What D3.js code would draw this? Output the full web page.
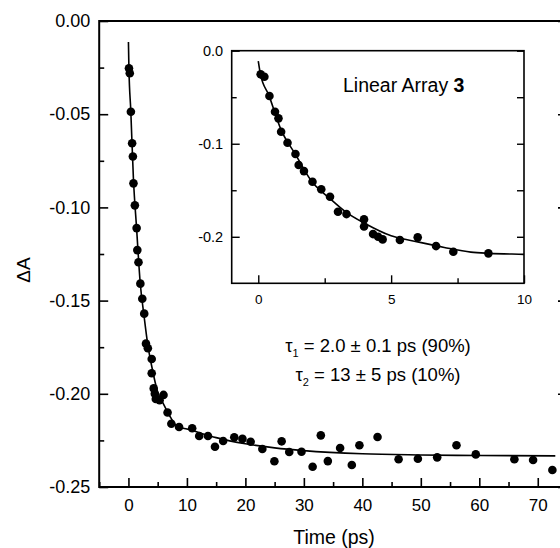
<!DOCTYPE html>
<html>
<head>
<meta charset="utf-8">
<script src="https://cdn.jsdelivr.net/npm/d3@7"></script>
<style>
  body { margin: 0; background: #fff; }
  svg { display: block; }
  text { font-family: "Liberation Sans", Arial, Helvetica, sans-serif; fill: #000; }
</style>
</head>
<body>
<div id="chart"></div>
<script>
// ---- data ----
const pointTimes = [0.09, 0.23, 0.42, 0.63, 0.76, 0.86, 1.10, 1.40, 1.52, 1.72, 2.04, 2.37, 2.70, 3.0, 3.32, 3.98, 3.98, 4.32, 4.51, 4.68, 5.33, 6.0, 6.69, 7.34, 8.66,
  10.9, 12.1, 13.6, 14.8, 16.2, 18.1, 19.5, 20.9, 22.9, 24.96, 26.2, 27.5, 29.6, 31.5, 32.9, 34.1, 36.2, 38.2, 39.5, 42.6, 46.2, 49.5, 52.8, 56.1, 59.4, 66.0, 69.2, 72.5];
const pointValues = [-0.0254, -0.0280, -0.0487, -0.0656, -0.0727, -0.0871, -0.0989, -0.1111, -0.1229, -0.1294, -0.1409, -0.1490, -0.1570, -0.1731, -0.1756, -0.1813, -0.1890, -0.1971, -0.2000, -0.2028, -0.2035, -0.2006, -0.2100, -0.2161, -0.2178,
  -0.2185, -0.2226, -0.2226, -0.2284, -0.2253, -0.2233, -0.2242, -0.2257, -0.2296, -0.2362, -0.2255, -0.2312, -0.2311, -0.2391, -0.2223, -0.2361, -0.2291, -0.2382, -0.2276, -0.2232, -0.2351, -0.2348, -0.2341, -0.2276, -0.2325, -0.2351, -0.2355, -0.2409];

const fitTimes  = [0, 0.08, 0.4, 0.85, 1.4, 2.0, 2.7, 3.3, 4.0, 5.0, 6.0, 7.0, 8.0, 8.7, 10, 12, 15, 20, 25, 30, 40, 50, 60, 73];
const fitValues = [-0.0112, -0.025, -0.048, -0.0845, -0.1115, -0.140, -0.159, -0.1735, -0.1855, -0.199, -0.2055, -0.2115, -0.2165, -0.2178, -0.2189, -0.2208, -0.2235, -0.2268, -0.2290, -0.2305, -0.2322, -0.2328, -0.2331, -0.2333];

const xMajorTicks = [0, 10, 20, 30, 40, 50, 60, 70];
const xMajorLabels = ["0", "10", "20", "30", "40", "50", "60", "70"];
const xMinorTicks = [-5, 5, 15, 25, 35, 45, 55, 65, 75];
const yMajorTicks = [0, -0.05, -0.10, -0.15, -0.20, -0.25];
const yMajorLabels = ["0.00", "-0.05", "-0.10", "-0.15", "-0.20", "-0.25"];
const yMinorTicks = [-0.025, -0.075, -0.125, -0.175, -0.225];

const insetXMajorTicks = [0, 5, 10];
const insetXMajorLabels = ["0", "5", "10"];
const insetXMinorTicks = [2.5, 7.5];
const insetYMajorTicks = [0, -0.1, -0.2];
const insetYMajorLabels = ["0.0", "-0.1", "-0.2"];
const insetYMinorTicks = [-0.05, -0.15];

const xTitle = "Time (ps)";
const yTitle = "ΔA";
const insetTitle = "Linear Array ";
const insetTitleBold = "3";
const tau1 = ["τ", "1", " = 2.0 ± 0.1 ps (90%)"];
const tau2 = ["τ", "2", " = 13 ± 5 ps (10%)"];

// ---- build ----
const W = 560, H = 548;
const points = pointTimes.map((t, i) => ({ t, v: pointValues[i] }));
const fit = fitTimes.map((t, i) => ({ t, v: fitValues[i] }));

const svg = d3.select("#chart").append("svg").attr("width", W).attr("height", H);
svg.append("rect").attr("width", W).attr("height", H).attr("fill", "#fff");

const x = d3.scaleLinear().domain([-5, 75]).range([99.2, 567]);
const y = d3.scaleLinear().domain([-0.25, 0]).range([487, 21]);

function styleAxis(g, w) {
  g.select(".domain").remove();
  g.selectAll(".tick line").attr("stroke", "#000").attr("stroke-width", w);
}

// main axes
const gxMaj = svg.append("g").attr("transform", `translate(0,${y(-0.25)})`)
  .call(d3.axisBottom(x).tickValues(xMajorTicks).tickSize(-9).tickPadding(12)
    .tickFormat((d, i) => xMajorLabels[i]));
styleAxis(gxMaj, 1.6);
gxMaj.selectAll("text").attr("font-size", 17).attr("fill", "#000");
const gxMin = svg.append("g").attr("transform", `translate(0,${y(-0.25)})`)
  .call(d3.axisBottom(x).tickValues(xMinorTicks).tickSize(-5).tickFormat(""));
styleAxis(gxMin, 1.6);

const gyMaj = svg.append("g").attr("transform", `translate(${x(-5)},0)`)
  .call(d3.axisLeft(y).tickValues(yMajorTicks).tickSize(-9).tickPadding(9)
    .tickFormat((d, i) => yMajorLabels[i]));
styleAxis(gyMaj, 1.6);
gyMaj.selectAll("text").attr("font-size", 18).attr("fill", "#000");
const gyMin = svg.append("g").attr("transform", `translate(${x(-5)},0)`)
  .call(d3.axisLeft(y).tickValues(yMinorTicks).tickSize(-5).tickFormat(""));
styleAxis(gyMin, 1.6);

const gyR = svg.append("g").attr("transform", `translate(${x(75)},0)`)
  .call(d3.axisRight(y).tickValues(yMajorTicks).tickSize(-9).tickFormat(""));
styleAxis(gyR, 1.6);

// main frame
svg.append("rect")
  .attr("x", x(-5)).attr("y", y(0))
  .attr("width", x(75) - x(-5)).attr("height", y(-0.25) - y(0))
  .attr("fill", "none").attr("stroke", "#000").attr("stroke-width", 2);

// main fit + points
const lineMain = d3.line().x(d => x(d.t)).y(d => y(d.v)).curve(d3.curveMonotoneX);
svg.append("path").datum(fit).attr("d", lineMain)
  .attr("fill", "none").attr("stroke", "#000").attr("stroke-width", 1.6);
svg.append("g").selectAll("circle").data(points).join("circle")
  .attr("cx", d => x(d.t)).attr("cy", d => y(d.v)).attr("r", 4.3).attr("fill", "#000");

// axis titles
svg.append("text").attr("x", 334).attr("y", 544).attr("text-anchor", "middle")
  .attr("font-size", 19.5).text(xTitle);
svg.append("text").attr("transform", "translate(30,270) rotate(-90)")
  .attr("text-anchor", "middle").attr("font-size", 19).text(yTitle);

// tau annotations
function tauText(yPos, parts) {
  const t = svg.append("text").attr("x", 378).attr("y", yPos)
    .attr("text-anchor", "middle").attr("font-size", 18.5);
  t.append("tspan").text(parts[0]);
  t.append("tspan").attr("dy", 5).attr("font-size", 11).text(parts[1]);
  t.append("tspan").attr("dy", -5).text(parts[2]);
}
tauText(352, tau1);
tauText(381, tau2);

// ---- inset ----
const xi = d3.scaleLinear().domain([-1, 10]).range([231.7, 524]);
const yi = d3.scaleLinear().domain([-0.25, 0]).range([283.3, 50.7]);
const inset = svg.append("g");
inset.append("rect")
  .attr("x", xi(-1)).attr("y", yi(0))
  .attr("width", xi(10) - xi(-1)).attr("height", yi(-0.25) - yi(0))
  .attr("fill", "#fff");

svg.append("clipPath").attr("id", "insetClip").append("rect")
  .attr("x", xi(-1)).attr("y", yi(0))
  .attr("width", xi(10) - xi(-1)).attr("height", yi(-0.25) - yi(0));

const ixMaj = inset.append("g").attr("transform", `translate(0,${yi(-0.25)})`)
  .call(d3.axisBottom(xi).tickValues(insetXMajorTicks).tickSize(-8).tickPadding(11)
    .tickFormat((d, i) => insetXMajorLabels[i]));
styleAxis(ixMaj, 1.4);
ixMaj.selectAll("text").attr("font-size", 13.5).attr("fill", "#000");
const ixMin = inset.append("g").attr("transform", `translate(0,${yi(-0.25)})`)
  .call(d3.axisBottom(xi).tickValues(insetXMinorTicks).tickSize(-5).tickFormat(""));
styleAxis(ixMin, 1.4);

const iyMaj = inset.append("g").attr("transform", `translate(${xi(-1)},0)`)
  .call(d3.axisLeft(yi).tickValues(insetYMajorTicks).tickSize(-8).tickPadding(8.5)
    .tickFormat((d, i) => insetYMajorLabels[i]));
styleAxis(iyMaj, 1.4);
iyMaj.selectAll("text").attr("font-size", 14.5).attr("fill", "#000");
const iyMin = inset.append("g").attr("transform", `translate(${xi(-1)},0)`)
  .call(d3.axisLeft(yi).tickValues(insetYMinorTicks).tickSize(-5).tickFormat(""));
styleAxis(iyMin, 1.4);

const iyR = inset.append("g").attr("transform", `translate(${xi(10)},0)`)
  .call(d3.axisRight(yi).tickValues(insetYMajorTicks.concat(insetYMinorTicks)).tickSize(-7).tickFormat(""));
styleAxis(iyR, 1.4);

inset.append("rect")
  .attr("x", xi(-1)).attr("y", yi(0))
  .attr("width", xi(10) - xi(-1)).attr("height", yi(-0.25) - yi(0))
  .attr("fill", "none").attr("stroke", "#000").attr("stroke-width", 1.6);

const insetData = inset.append("g").attr("clip-path", "url(#insetClip)");
const lineInset = d3.line().x(d => xi(d.t)).y(d => yi(d.v)).curve(d3.curveMonotoneX);
insetData.append("path").datum(fit.filter(d => d.t <= 12)).attr("d", lineInset)
  .attr("fill", "none").attr("stroke", "#000").attr("stroke-width", 1.6);
insetData.selectAll("circle").data(points.filter(d => d.t <= 10)).join("circle")
  .attr("cx", d => xi(d.t)).attr("cy", d => yi(d.v)).attr("r", 4.3).attr("fill", "#000");

const it = inset.append("text").attr("x", 343).attr("y", 92).attr("font-size", 19.5);
it.append("tspan").text(insetTitle);
it.append("tspan").attr("font-weight", "bold").text(insetTitleBold);
</script>
</body>
</html>
